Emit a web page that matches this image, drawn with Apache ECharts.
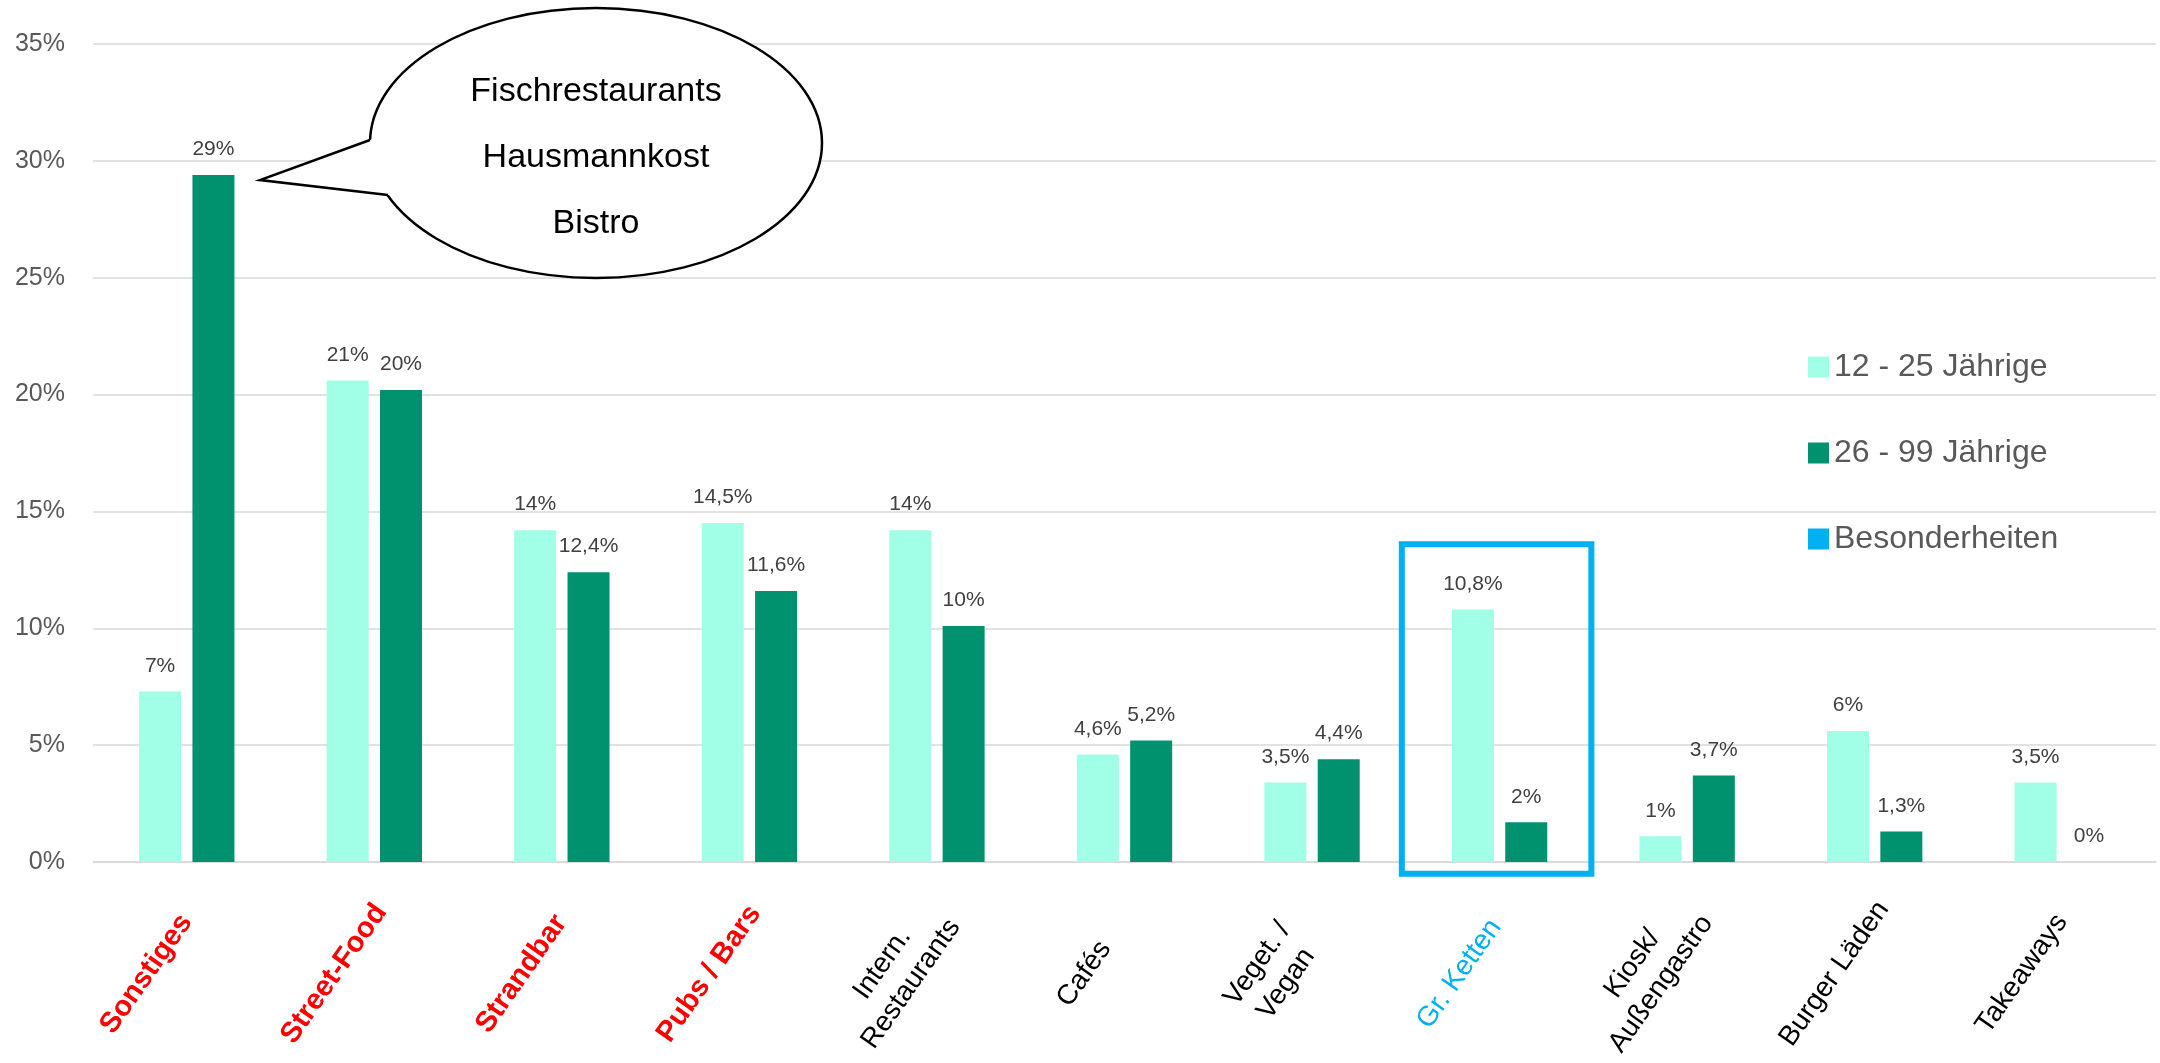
<!DOCTYPE html>
<html>
<head>
<meta charset="utf-8">
<title>Gastronomie nach Altersgruppe</title>
<script src="https://cdn.jsdelivr.net/npm/echarts@6/dist/echarts.min.js"></script>
<style>
    html, body { margin: 0; padding: 0; background: #fff; }
    #chart { width: 2160px; height: 1063px; }
</style>
</head>
<body>
<div id="chart"></div>
<script>
// Daten
const categories = ["Sonstiges", "Street-Food", "Strandbar", "Pubs / Bars", "Intern.\nRestaurants", "Cafés",
    "Veget. /\nVegan", "Gr. Ketten", "Kiosk/\nAußengastro", "Burger Läden", "Takeaways"];
const seriesNames = ["12 - 25 Jährige", "26 - 99 Jährige", "Besonderheiten"];
const youngValues = [7.3, 20.6, 14.2, 14.5, 14.2, 4.6, 3.4, 10.8, 1.1, 5.6, 3.4];
const olderValues = [29.4, 20.2, 12.4, 11.6, 10.1, 5.2, 4.4, 1.7, 3.7, 1.3, 0];
const youngLabels = ["7%", "21%", "14%", "14,5%", "14%", "4,6%", "3,5%", "10,8%", "1%", "6%", "3,5%"];
const olderLabels = ["29%", "20%", "12,4%", "11,6%", "10%", "5,2%", "4,4%", "2%", "3,7%", "1,3%", "0%"];
const yTicks = [0, 5, 10, 15, 20, 25, 30, 35];
// Rahmen um "Gr. Ketten" (Kategorie, oben, unten in %)
const highlightBox = [["Gr. Ketten", 13.6, -0.5]];
const redCategories = ["Sonstiges", "Street-Food", "Strandbar", "Pubs / Bars"];
const blueCategories = ["Gr. Ketten"];
const bubbleLines = ["Fischrestaurants", "Hausmannkost", "Bistro"];

const FONT = "Liberation Sans";
const chart = echarts.init(document.getElementById("chart"));

// Sprechblase: Spitze und Ansatzpunkte auf der Ellipse
const tip = [260, 180];
const baseUp = [370, 140];
const baseLow = [388, 195];
const ext = p => [tip[0] + 1.05 * (p[0] - tip[0]), tip[1] + 1.05 * (p[1] - tip[1])];

const option = {
    animation: false,
    backgroundColor: "#ffffff",
    textStyle: { fontFamily: FONT },
    grid: { left: 93, right: 4, top: 44, bottom: 201, outerBoundsMode: "none", containLabel: false },
    legend: {
        orient: "vertical",
        left: 1803,
        top: 345,
        itemWidth: 21,
        itemHeight: 21,
        itemGap: 52,
        textStyle: { fontSize: 32, color: "#595959", lineHeight: 34, fontFamily: FONT },
        data: seriesNames.map(n => ({ name: n, icon: "rect" }))
    },
    xAxis: {
        type: "category",
        data: categories,
        axisTick: { show: false },
        axisLine: { lineStyle: { color: "#D9D9D9", width: 1.5 } },
        axisLabel: {
            interval: 0,
            rotate: 55,
            align: "center",
            verticalAlign: "middle",
            margin: 112,
            padding: [0, 46, 66, 0],
            fontSize: 28,
            lineHeight: 35,
            fontFamily: FONT,
            formatter: function (v) {
                if (redCategories.includes(v)) return "{r|" + v + "}";
                if (blueCategories.includes(v)) return "{b|" + v + "}";
                return v.split("\n").map(s => "{k|" + s + "}").join("\n");
            },
            rich: {
                r: { color: "#FF0000", fontWeight: "bold", fontSize: 29, fontFamily: FONT, align: "center" },
                b: { color: "#00B0F0", fontSize: 28, fontFamily: FONT, align: "center" },
                k: { color: "#000000", fontSize: 28, lineHeight: 35, fontFamily: FONT, align: "center" }
            }
        }
    },
    yAxis: {
        type: "value",
        min: yTicks[0],
        max: yTicks[yTicks.length - 1],
        interval: 5,
        axisLine: { show: false },
        axisTick: { show: false },
        splitLine: { lineStyle: { color: "#D9D9D9", width: 1.5 } },
        axisLabel: { formatter: "{value}%", fontSize: 25, color: "#595959", margin: 28, fontFamily: FONT }
    },
    series: [
        {
            name: seriesNames[0],
            type: "bar",
            data: youngValues,
            barWidth: 42,
            barGap: "27%",
            itemStyle: { color: "#A0FFE6" },
            label: {
                show: true,
                position: "top",
                distance: 15,
                fontSize: 21,
                color: "#404040",
                fontFamily: FONT,
                formatter: p => youngLabels[p.dataIndex]
            }
        },
        {
            name: seriesNames[1],
            type: "bar",
            data: olderValues,
            barWidth: 42,
            barGap: "27%",
            itemStyle: { color: "#00916E" },
            label: {
                show: true,
                position: "top",
                distance: 15,
                fontSize: 21,
                color: "#404040",
                fontFamily: FONT,
                formatter: p => olderLabels[p.dataIndex]
            }
        },
        {
            // blauer Rahmen, zugleich Legendeneintrag "Besonderheiten"
            name: seriesNames[2],
            type: "custom",
            data: highlightBox,
            encode: { x: 0, y: [1, 2] },
            itemStyle: { color: "#00B0F0" },
            clip: false,
            z: 5,
            renderItem: function (params, api) {
                const topPt = api.coord([api.value(0), api.value(1)]);
                const botPt = api.coord([api.value(0), api.value(2)]);
                const bw = api.size([1, 0])[0];
                return {
                    type: "rect",
                    shape: { x: topPt[0] - bw / 2 - 4, y: topPt[1], width: bw + 2, height: botPt[1] - topPt[1] },
                    style: { fill: "none", stroke: "#00B0F0", lineWidth: 6 }
                };
            }
        }
    ],
    graphic: [
        {
            type: "ellipse",
            z: 100,
            shape: { cx: 596, cy: 143, rx: 226, ry: 135 },
            style: { fill: "#ffffff", stroke: "#000000", lineWidth: 2.5 }
        },
        {
            type: "polygon",
            z: 101,
            shape: { points: [tip, ext(baseUp), ext(baseLow)] },
            style: { fill: "#ffffff" }
        },
        {
            type: "polyline",
            z: 102,
            shape: { points: [baseUp, tip, baseLow] },
            style: { fill: null, stroke: "#000000", lineWidth: 2.5 }
        },
        ...bubbleLines.map((t, i) => ({
            type: "text",
            z: 103,
            x: 596,
            y: 92 + i * 66,
            style: {
                text: t,
                fill: "#000000",
                font: '34px "' + FONT + '"',
                textAlign: "center",
                textVerticalAlign: "middle"
            }
        }))
    ]
};

chart.setOption(option);
</script>
</body>
</html>
